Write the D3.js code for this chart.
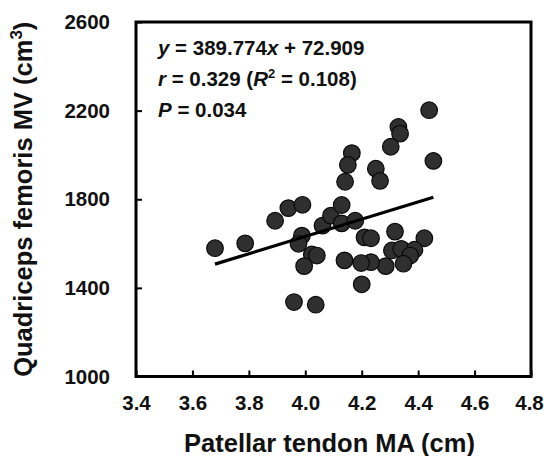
<!DOCTYPE html>
<html>
<head>
<meta charset="utf-8">
<script src="https://cdn.jsdelivr.net/npm/d3@7"></script>
<style>
  body { margin: 0; background: #fff; }
  svg { display: block; font-family: "Liberation Sans", Arial, sans-serif; }
  .tick text { font-size: 20.5px; font-weight: bold; fill: #111; }
  .tick line { stroke: #000; stroke-width: 2; }
  .domain { display: none; }
  .title { font-size: 25.5px; font-weight: bold; fill: #111; }
  .note { font-size: 20.5px; font-weight: bold; fill: #111; }
</style>
</head>
<body>
<div id="chart"></div>
<script>
"use-strict";

// Patellar tendon MA (cm)
const tendonMA = [3.680, 3.787, 3.893, 3.940, 3.990, 3.988, 3.976, 4.023, 4.041, 3.996,
    3.960, 4.037, 4.061, 4.091, 4.439, 4.330, 4.336, 4.303, 4.165, 4.151,
    4.141, 4.250, 4.265, 4.454, 4.129, 4.129, 4.177, 4.210, 4.233, 4.318,
    4.422, 4.307, 4.340, 4.387, 4.372, 4.348, 4.285, 4.233, 4.198, 4.139, 4.200];
// Quadriceps femoris MV (cm3)
const quadMV = [1579, 1601, 1703, 1760, 1775, 1636, 1599, 1551, 1546, 1498,
    1336, 1324, 1681, 1726, 2202, 2126, 2096, 2037, 2008, 1955,
    1879, 1938, 1883, 1973, 1774, 1691, 1703, 1628, 1624, 1654,
    1624, 1569, 1576, 1572, 1546, 1509, 1498, 1516, 1512, 1524, 1416];

const xTicks = [3.4, 3.6, 3.8, 4.0, 4.2, 4.4, 4.6, 4.8];
const yTicks = [1000, 1400, 1800, 2200, 2600];

// regression from the figure
const slope = 389.774, intercept = 72.909;

const width = 544, height = 456;
const margin = { top: 22, right: 13, bottom: 79.5, left: 136 };
const plotW = width - margin.left - margin.right,
    plotH = height - margin.top - margin.bottom;

const svg = d3.select("#chart")
    .append("svg")
    .attr("width", width)
    .attr("height", height);

const g = svg.append("g")
    .attr("transform", "translate(" + margin.left + "," + margin.top + ")");

const x = d3.scaleLinear().domain([3.4, 4.8]).range([0, plotW]);
const y = d3.scaleLinear().domain([1000, 2600]).range([plotH, 0]);

// axes, ticks pointing inward
const xAxisG = g.append("g")
    .attr("transform", "translate(0," + plotH + ")")
    .call(d3.axisBottom(x).tickValues(xTicks).tickFormat(d3.format(".1f"))
        .tickSizeInner(-6).tickSizeOuter(0).tickPadding(19));
// last label sits on the page edge, nudge it in a bit
xAxisG.selectAll(".tick text").filter(d => d === 4.8).attr("dx", -2);

g.append("g")
    .call(d3.axisLeft(y).tickValues(yTicks).tickFormat(d3.format("d"))
        .tickSizeInner(-6).tickSizeOuter(0).tickPadding(26));

// frame
g.append("rect")
    .attr("width", plotW)
    .attr("height", plotH)
    .attr("fill", "none")
    .attr("stroke", "#000")
    .attr("stroke-width", 3);

// points
const pts = tendonMA.map((d, i) => ({ x: d, y: quadMV[i] }));
g.selectAll("circle.pt")
    .data(pts)
    .enter()
    .append("circle")
    .attr("class", "pt")
    .attr("cx", d => x(d.x))
    .attr("cy", d => y(d.y))
    .attr("r", 8.3)
    .attr("fill", "#2f2f2f")
    .attr("stroke", "#0a0a0a")
    .attr("stroke-width", 1.2);

// fit line over data range
const xr = d3.extent(tendonMA);
g.append("line")
    .attr("x1", x(xr[0]))
    .attr("y1", y(slope * xr[0] + intercept))
    .attr("x2", x(xr[1]))
    .attr("y2", y(slope * xr[1] + intercept))
    .attr("stroke", "#000")
    .attr("stroke-width", 3.2);

// equation text
const notes = svg.append("g").attr("class", "note");
let t = notes.append("text").attr("x", 158).attr("y", 55);
t.append("tspan").attr("font-style", "italic").text("y");
t.append("tspan").text(" = 389.774");
t.append("tspan").attr("font-style", "italic").text("x");
t.append("tspan").text(" + 72.909");

t = notes.append("text").attr("x", 158).attr("y", 86);
t.append("tspan").attr("font-style", "italic").text("r");
t.append("tspan").text(" = 0.329 (");
t.append("tspan").attr("font-style", "italic").text("R");
t.append("tspan").attr("font-size", "13px").attr("dy", -8).text("2");
t.append("tspan").attr("dy", 8).text(" = 0.108)");

t = notes.append("text").attr("x", 158).attr("y", 117);
t.append("tspan").attr("font-style", "italic").text("P");
t.append("tspan").text(" = 0.034");

// axis titles
svg.append("text")
    .attr("class", "title")
    .attr("x", margin.left + plotW / 2 - 4)
    .attr("y", 452)
    .attr("text-anchor", "middle")
    .text("Patellar tendon MA (cm)");

const yt = svg.append("text")
    .attr("class", "title")
    .attr("text-anchor", "middle")
    .attr("transform", "translate(32," + (margin.top + plotH / 2) + ") rotate(-90)");
yt.append("tspan").text("Quadriceps femoris MV (cm");
yt.append("tspan").attr("font-size", "17px").attr("dy", -10).text("3");
yt.append("tspan").attr("dy", 10).text(")");
</script>
</body>
</html>
